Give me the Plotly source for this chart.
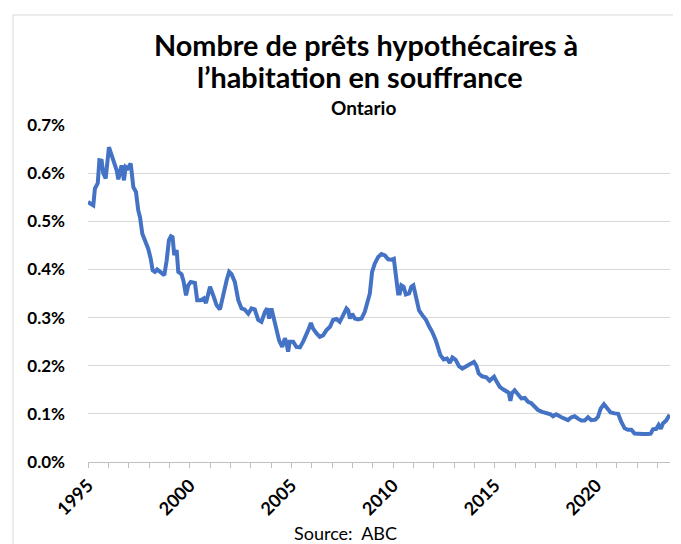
import plotly.graph_objects as go

years = [
    1995.00, 1995.15, 1995.26, 1995.34, 1995.48, 1995.56, 1995.67, 1995.75, 1995.87,
    1996.03, 1996.24, 1996.41, 1996.49, 1996.65, 1996.77, 1996.85, 1996.95,
    1997.10, 1997.23, 1997.36, 1997.47, 1997.56, 1997.67, 1997.80, 1997.96,
    1998.08, 1998.18, 1998.29, 1998.40, 1998.55, 1998.65, 1998.75, 1998.87, 1998.98,
    1999.08, 1999.16, 1999.24, 1999.36, 1999.44, 1999.60, 1999.70, 1999.82, 1999.93,
    2000.05, 2000.26, 2000.37, 2000.54, 2000.70, 2000.80,
    2001.00, 2001.16, 2001.32, 2001.49, 2001.65, 2001.82, 2001.94,
    2002.06, 2002.22, 2002.39, 2002.55, 2002.70, 2002.88,
    2003.04, 2003.20, 2003.37, 2003.53, 2003.70, 2003.81, 2003.91,
    2004.02, 2004.14, 2004.27, 2004.40, 2004.55, 2004.68, 2004.76, 2004.84, 2004.92,
    2005.09, 2005.25, 2005.42, 2005.58, 2005.74, 2005.86, 2005.96,
    2006.07, 2006.24, 2006.40, 2006.56, 2006.73, 2006.90,
    2007.05, 2007.22, 2007.38, 2007.55, 2007.71, 2007.80, 2007.88, 2007.99,
    2008.12, 2008.28, 2008.45, 2008.61, 2008.74, 2008.86, 2008.97,
    2009.10, 2009.27, 2009.43, 2009.60, 2009.76, 2009.92,
    2010.04, 2010.13, 2010.25, 2010.33, 2010.41, 2010.52, 2010.63, 2010.79, 2010.90,
    2011.00, 2011.15, 2011.28, 2011.44, 2011.61, 2011.77, 2011.93,
    2012.10, 2012.21, 2012.33, 2012.49, 2012.65, 2012.79, 2012.92,
    2013.08, 2013.24, 2013.41, 2013.55, 2013.70, 2013.86, 2013.98,
    2014.10, 2014.21, 2014.38, 2014.59, 2014.75, 2014.97,
    2015.08, 2015.25, 2015.41, 2015.57, 2015.69, 2015.77, 2015.85, 2015.98,
    2016.15, 2016.31, 2016.48, 2016.64, 2016.80, 2016.97,
    2017.13, 2017.33, 2017.54, 2017.75, 2017.87,
    2018.02, 2018.28, 2018.44, 2018.60, 2018.77, 2018.93,
    2019.10, 2019.26, 2019.42, 2019.59, 2019.75, 2019.95,
    2020.08, 2020.21, 2020.37, 2020.54, 2020.70, 2020.90,
    2021.07, 2021.22, 2021.39, 2021.55, 2021.72, 2021.88,
    2022.05, 2022.30, 2022.54, 2022.67, 2022.78, 2022.95,
    2023.06, 2023.17, 2023.27, 2023.43, 2023.60,
]

rates = [
    0.540, 0.535, 0.533, 0.568, 0.579, 0.627, 0.626, 0.600, 0.589,
    0.654, 0.627, 0.606, 0.587, 0.616, 0.585, 0.613, 0.610,
    0.620, 0.571, 0.561, 0.523, 0.508, 0.474, 0.461, 0.443,
    0.423, 0.398, 0.395, 0.400, 0.395, 0.391, 0.388, 0.419, 0.461,
    0.469, 0.467, 0.430, 0.440, 0.395, 0.390, 0.375, 0.346, 0.367,
    0.374, 0.372, 0.336, 0.336, 0.340, 0.330,
    0.364, 0.346, 0.326, 0.317, 0.350, 0.378, 0.395,
    0.390, 0.374, 0.336, 0.319, 0.317, 0.308,
    0.319, 0.317, 0.295, 0.291, 0.312, 0.319, 0.298,
    0.319, 0.298, 0.267, 0.252, 0.239, 0.257, 0.248, 0.229, 0.250,
    0.250, 0.239, 0.238, 0.250, 0.263, 0.277, 0.289,
    0.277, 0.267, 0.260, 0.263, 0.274, 0.281,
    0.295, 0.297, 0.291, 0.305, 0.319, 0.315, 0.298, 0.308,
    0.298, 0.296, 0.298, 0.312, 0.336, 0.350, 0.395,
    0.412, 0.426, 0.432, 0.429, 0.421, 0.420,
    0.422, 0.391, 0.350, 0.350, 0.367, 0.364, 0.348, 0.350, 0.364,
    0.367, 0.340, 0.315, 0.305, 0.296, 0.282, 0.270,
    0.253, 0.236, 0.222, 0.213, 0.215, 0.206, 0.217,
    0.212, 0.199, 0.194, 0.198, 0.200, 0.205, 0.208,
    0.200, 0.184, 0.178, 0.176, 0.169, 0.177,
    0.168, 0.156, 0.151, 0.148, 0.144, 0.127, 0.143, 0.149,
    0.139, 0.132, 0.133, 0.125, 0.122, 0.116,
    0.108, 0.104, 0.101, 0.099, 0.095,
    0.099, 0.093, 0.089, 0.087, 0.093, 0.095,
    0.090, 0.086, 0.086, 0.093, 0.087, 0.088,
    0.094, 0.111, 0.120, 0.111, 0.103, 0.101,
    0.100, 0.084, 0.070, 0.067, 0.067, 0.059,
    0.058, 0.058, 0.058, 0.059, 0.068, 0.069,
    0.077, 0.069, 0.080, 0.086, 0.098,
]

x_tick_vals = [1995, 2000, 2005, 2010, 2015, 2020]
x_tick_text = ["1995", "2000", "2005", "2010", "2015", "2020"]
y_tick_vals = [0.0, 0.1, 0.2, 0.3, 0.4, 0.5, 0.6, 0.7]
y_tick_text = ["0.0%", "0.1%", "0.2%", "0.3%", "0.4%", "0.5%", "0.6%", "0.7%"]

title_line1 = "Nombre de prêts hypothécaires à"
title_line2 = "l’habitation en souffrance"
subtitle = "Ontario"
source_text = "Source:  ABC"

FONT = "Lato"

fig = go.Figure()
fig.add_trace(go.Scatter(
    x=years, y=rates, mode="lines",
    line=dict(color="#4472C4", width=4),
    hoverinfo="skip", showlegend=False,
))

# The page body adds an 8px offset, so the figure is sized to fit the window
OFF = 8
W, H = 681 - OFF, 544 - OFF
L, R, T, B = 88 - OFF, 11, 125 - OFF, 82
pw, ph = W - L - R, H - T - B

def px(xs):
    # screen x -> paper x
    return (xs - OFF - L) / pw

def py(ys):
    # screen y -> paper y
    return (H - B - (ys - OFF)) / ph

fig.update_layout(
    width=W, height=H,
    margin=dict(l=L, r=R, t=T, b=B, autoexpand=False),
    paper_bgcolor="white", plot_bgcolor="white",
    font=dict(family=FONT, color="#000000"),
    xaxis=dict(
        range=[1995, 2023.62],
        tickvals=x_tick_vals, ticktext=x_tick_text,
        tickangle=-45,
        tickfont=dict(family=FONT, size=18, weight="bold", color="#000000"),
        ticks="outside", ticklen=5, tickcolor="#bfbfbf",
        minor=dict(dtick=1, tick0=1995, ticks="outside", ticklen=5, tickcolor="#bfbfbf", showgrid=False),
        showline=True, linecolor="#bfbfbf", linewidth=1,
        showgrid=False, zeroline=False, automargin=False,
    ),
    yaxis=dict(
        range=[0, 0.7],
        tickvals=y_tick_vals, ticktext=y_tick_text,
        tickfont=dict(family=FONT, size=17, weight="bold", color="#000000"),
        ticklabelstandoff=22,
        showgrid=True, gridcolor="#d9d9d9", gridwidth=1,
        zeroline=False, showline=False, ticks="", automargin=False,
    ),
    shapes=[dict(
        type="rect", xref="paper", yref="paper",
        x0=px(13), x1=px(674), y0=py(560), y1=py(15),
        line=dict(color="#d9d9d9", width=1), fillcolor="rgba(0,0,0,0)",
        layer="below",
    )],
    annotations=[
        dict(text=title_line1, xref="paper", yref="paper", x=px(366), y=py(45),
             showarrow=False, xanchor="center", yanchor="middle",
             font=dict(family=FONT, size=28.8, weight="bold", color="#000000")),
        dict(text=title_line2, xref="paper", yref="paper", x=px(360), y=py(77),
             showarrow=False, xanchor="center", yanchor="middle",
             font=dict(family=FONT, size=28.8, weight="bold", color="#000000")),
        dict(text=subtitle, xref="paper", yref="paper", x=px(363), y=py(108),
             showarrow=False, xanchor="center", yanchor="middle",
             font=dict(family=FONT, size=19, weight="bold", color="#000000")),
        dict(text=source_text, xref="paper", yref="paper", x=px(345), y=py(533),
             showarrow=False, xanchor="center", yanchor="middle",
             font=dict(family=FONT, size=18, color="#000000")),
    ],
)

fig.write_html("out.html")
